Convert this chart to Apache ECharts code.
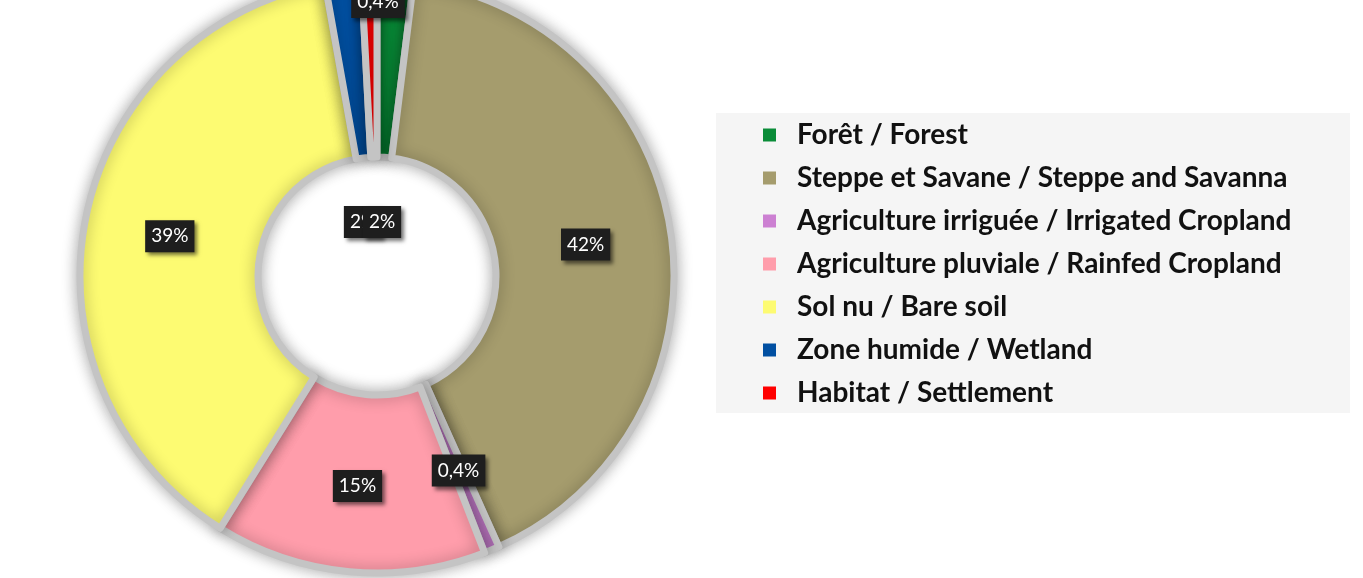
<!DOCTYPE html>
<html>
<head>
<meta charset="utf-8">
<script src="https://cdn.jsdelivr.net/npm/echarts@6/dist/echarts.min.js"></script>
<style>html,body{margin:0;padding:0;background:#fff}#c{width:1363px;height:578px}</style>
</head>
<body>
<div id="c"></div>
<script>
const categories = [
  'Forêt / Forest',
  'Steppe et Savane / Steppe and Savanna',
  'Agriculture irriguée / Irrigated Cropland',
  'Agriculture pluviale / Rainfed Cropland',
  'Sol nu / Bare soil',
  'Zone humide / Wetland',
  'Habitat / Settlement'
];
const values = [2, 42, 0.4, 15, 39, 2, 0.4];
const valueLabels = ['2%', '42%', '0,4%', '15%', '39%', '2%', '0,4%'];
const colors = ['#0a8c38', '#a59c6d', '#cc80d2', '#ff9dab', '#fdfb72', '#0150a2', '#ff0000'];

const CX = 377, CY = 276;
// label offsets (relative to pie centre) for the small slices, as placed in the original
const labelOffsets = { 0: [-14, -54], 5: [5, -54], 6: [1, -274] };

const chart = echarts.init(document.getElementById('c'));
chart.setOption({
  backgroundColor: '#ffffff',
  animation: false,
  graphic: [{
    type: 'rect', left: 716, top: 113, z: -1,
    shape: { width: 634, height: 300 },
    style: { fill: '#f5f5f5' }
  }],
  legend: {
    orient: 'vertical',
    left: 763, top: 121, padding: 0,
    icon: 'rect', itemWidth: 13, itemHeight: 13, itemGap: 15,
    itemStyle: { borderWidth: 0, shadowBlur: 0 },
    data: categories,
    textStyle: {
      fontFamily: 'Lato', fontWeight: 'bold', fontSize: 28, lineHeight: 28,
      color: '#111', padding: [0, 0, 0, 16]
    }
  },
  series: [{
    type: 'pie',
    center: [CX, CY],
    radius: [119, 297],
    startAngle: 90,
    clockwise: true,
    minAngle: 3,
    avoidLabelOverlap: false,
    itemStyle: {
      borderColor: '#c4c4c4', borderWidth: 7,
      shadowBlur: 15, shadowColor: 'rgba(0,0,0,0.3)'
    },
    label: {
      show: true,
      position: 'inside',
      formatter: p => valueLabels[p.dataIndex],
      fontFamily: 'Lato', fontSize: 19, lineHeight: 20, color: '#ffffff',
      backgroundColor: '#1e1e1e', padding: [6, 6, 6, 6],
      shadowColor: 'rgba(0,0,0,0.55)', shadowBlur: 4, shadowOffsetX: 3, shadowOffsetY: 3
    },
    labelLine: { show: false },
    labelLayout: function (p) {
      const o = labelOffsets[p.dataIndex];
      if (o) return { x: CX + o[0], y: CY + o[1], align: 'center', verticalAlign: 'middle' };
      return {};
    },
    emphasis: { disabled: true },
    data: categories.map((n, i) => ({ name: n, value: values[i], itemStyle: { color: colors[i] } }))
  }]
});
</script>
</body>
</html>
